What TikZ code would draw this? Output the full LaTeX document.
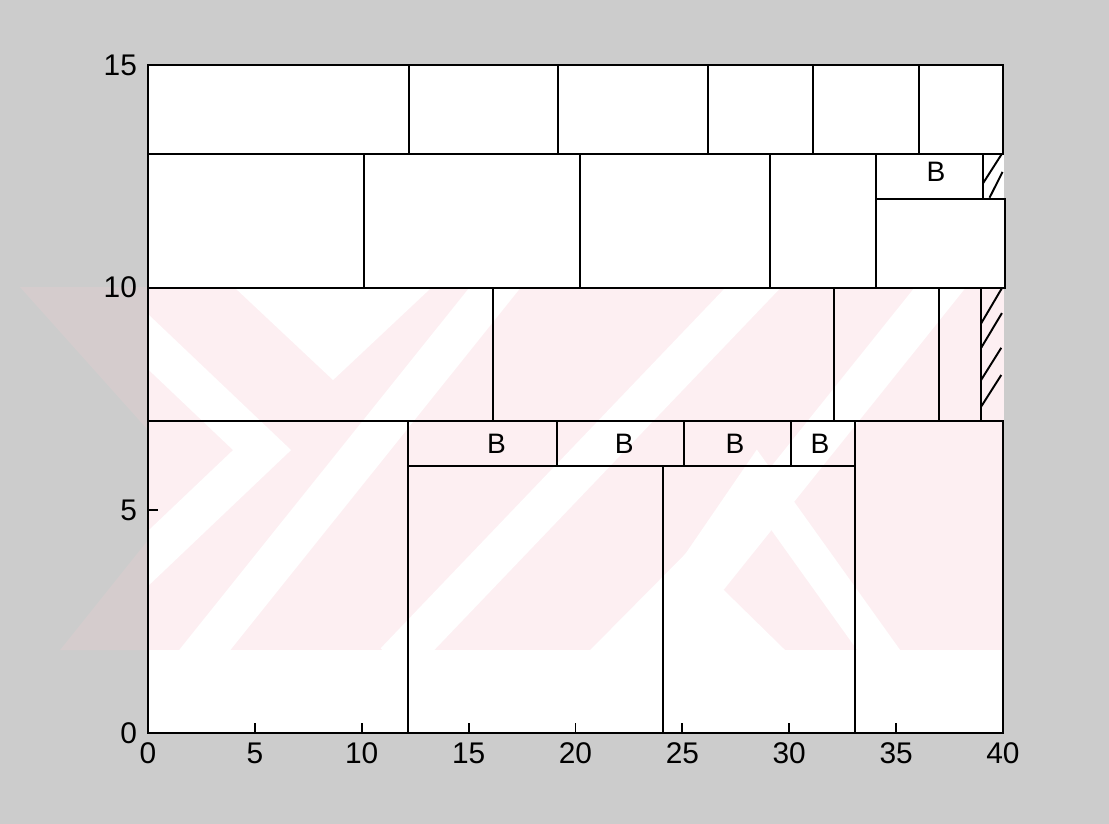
\documentclass[tikz,border=0pt]{standalone}
\usepackage{fontspec}
\setmainfont{Liberation Sans}
\definecolor{bgc}{RGB}{204,204,204}
\definecolor{wm}{RGB}{250,205,212}
\tikzset{
  cell/.style={draw=black, line width=1.1pt},
  axisline/.style={draw=black, line width=1.6pt},
  hatchline/.style={draw=black, line width=1.1pt},
  ticklab/.style={font=\fontsize{17}{20}\selectfont, inner sep=0pt},
  blabel/.style={font=\fontsize{16}{19}\selectfont, inner sep=0pt},
  wmfill/.style={fill=wm, fill opacity=0.3},
  wmgap/.style={draw=white, line width=0.8cm}
}
\begin{document}
\begin{tikzpicture}[x=0.4275cm,y=0.8906cm]
\useasboundingbox (-6.924,-2.0436) rectangle (44.96,16.461);
\fill[bgc] (-6.924,-2.0436) rectangle (44.96,16.461);
\fill[white] (0,0) rectangle (40.05,15);
% faint watermark (pixel coordinates)
\begin{scope}[shift={(-2.96cm,14.66cm)}, x=0.02cm, y=-0.02cm]
  \begin{scope}
    \clip (148,287) rectangle (1004,650);
    \fill[wmfill] (148,287) rectangle (1004,650);
    \fill[white] (234,287) -- (432,287) -- (333,380) -- cycle;
    \draw[wmgap] (120,315) -- (262,450) -- (120,585);
    \draw[wmgap] (505,275) -- (195,662);
    \draw[wmgap] (765,275) -- (395,662);
    \draw[wmgap] (950,275) -- (640,662);
    \draw[wmgap, line width=0.7cm] (620,680) -- (757,480) -- (900,680);
    \fill[white] (590,650) -- (686,553) -- (785,650) -- cycle;
  \end{scope}
  \fill[wm, fill opacity=0.2] (20,287) -- (148,287) -- (148,430) -- cycle;
  \fill[wm, fill opacity=0.2] (60,650) -- (148,650) -- (148,540) -- cycle;
\end{scope}
% row 1
\draw[cell] (0,13) rectangle (12.2,15);
\draw[cell] (12.2,13) rectangle (19.18,15);
\draw[cell] (19.18,13) rectangle (26.2,15);
\draw[cell] (26.2,13) rectangle (31.1,15);
\draw[cell] (31.1,13) rectangle (36.08,15);
\draw[cell] (36.08,13) rectangle (40,15);
% row 2
\draw[cell] (0,10) rectangle (10.1,13);
\draw[cell] (10.1,10) rectangle (20.2,13);
\draw[cell] (20.2,10) rectangle (29.1,13);
\draw[cell] (29.1,10) rectangle (34.06,13);
\draw[cell] (34.06,12) rectangle (39.05,13);
\draw[cell] (34.06,10) rectangle (40.1,12);
\draw[hatchline] (39.06,12.34) -- (39.94,13.0);
\draw[hatchline] (39.37,12.02) -- (39.98,12.6);
% row 3
\draw[cell] (0,7) rectangle (16.15,10);
\draw[cell] (16.15,7) rectangle (32.1,10);
\draw[cell] (32.1,7) rectangle (37.02,10);
\draw[cell] (37.02,7) rectangle (38.98,10);
\draw[hatchline] (38.98,9.2) -- (39.95,9.99);
\draw[hatchline] (38.98,8.65) -- (39.95,9.43);
\draw[hatchline] (38.98,7.93) -- (39.92,8.65);
\draw[hatchline] (38.98,7.33) -- (39.92,8.04);
% row 4
\draw[cell] (0,0) rectangle (12.18,7);
\draw[cell] (12.18,6) rectangle (19.12,7);
\draw[cell] (19.12,6) rectangle (25.09,7);
\draw[cell] (25.09,6) rectangle (30.07,7);
\draw[cell] (30.07,6) rectangle (33.08,7);
\draw[cell] (12.18,0) rectangle (24.08,6);
\draw[cell] (24.08,0) rectangle (33.08,6);
\draw[cell] (33.08,0) rectangle (40,7);
% labels B
\node[blabel] (b1) at (36.87,12.6) {B};
\node[blabel] (b2) at (16.3,6.5) {B};
\node[blabel] (b3) at (22.28,6.5) {B};
\node[blabel] (b4) at (27.46,6.5) {B};
\node[blabel] (b5) at (31.44,6.5) {B};
% axes
\draw[axisline] (0,15) -- (0,0) -- (40,0);
\foreach \t in {0,5,...,40} {
  \draw[cell] (\t,0) -- (\t,0.22);
  \node[ticklab] (xl\t) at (\t,-0.45) {\t};
}
\foreach \t in {0,5,10,15} {
  \draw[cell] (0,\t) -- (0.45,\t);
  \node[ticklab, anchor=east] (yl\t) at (-0.5,\t) {\t};
}
\end{tikzpicture}
\end{document}
